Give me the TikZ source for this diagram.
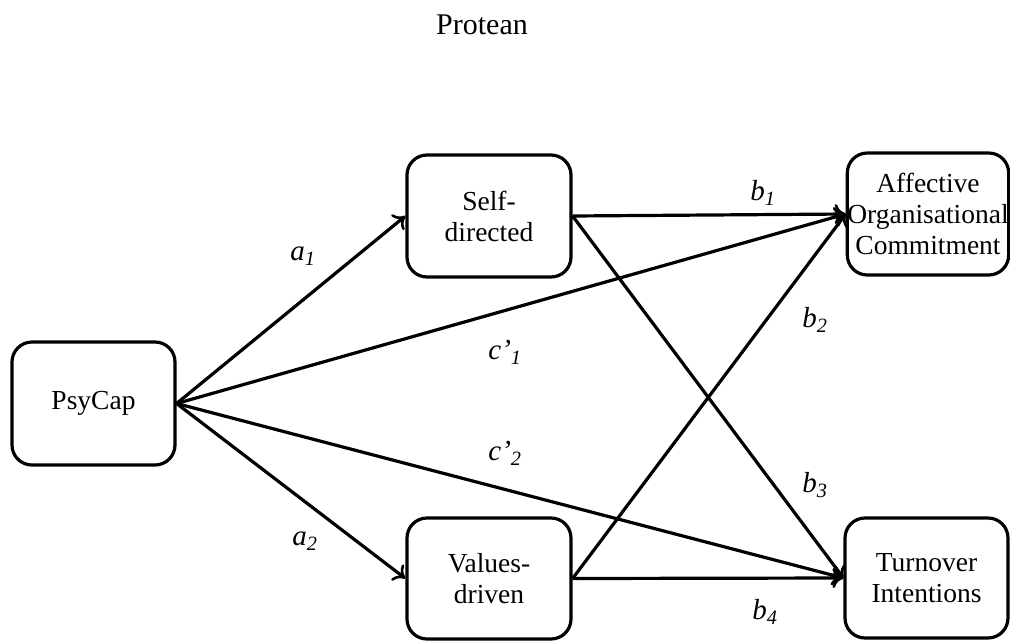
\documentclass[tikz,border=0pt]{standalone}
\usepackage{fontspec}
\setmainfont{Liberation Serif}
\usetikzlibrary{arrows.meta}
\begin{document}
\begin{tikzpicture}[x=1pt,y=-1pt,
  box/.style={draw,line width=3.2pt,rounded corners=20pt,align=center,
    font=\fontsize{27.5}{31}\selectfont,inner sep=0pt},
  conn/.style={line width=3.2pt,-{To[length=11pt,width=20pt,line width=2.6pt]}},
  lab/.style={font=\fontsize{29}{30}\selectfont\itshape,inner sep=0pt}]
\useasboundingbox (0,0) rectangle (1010,641);
\node (title) at (482,25) {\fontsize{30}{32}\selectfont Protean};
\node[box,minimum width=163pt,minimum height=123pt] (P) at (93.5,403.5) {PsyCap};
\node[box,minimum width=164pt,minimum height=122pt] (S) at (489,216) {Self-\\directed};
\node[box,minimum width=164pt,minimum height=121pt] (V) at (489,578.5) {Values-\\driven};
\node[box,minimum width=160pt,minimum height=122pt] (A) at (928,214) {Affective\\Organisational\\Commitment};
\node[box,minimum width=163pt,minimum height=120pt] (T) at (926.5,578) {Turnover\\Intentions};
\draw[conn] (P.east) -- (S.west);
\draw[conn] (P.east) -- (V.west);
\draw[conn] (P.east) -- (A.west);
\draw[conn] (P.east) -- (T.west);
\draw[conn] (S.east) -- (A.west);
\draw[conn] (S.east) -- (T.west);
\draw[conn] (V.east) -- (A.west);
\draw[conn] (V.east) -- (T.west);
\node[lab] (a1) at (303,256) {a\textsubscript{1}};
\node[lab] (a2) at (305,541) {a\textsubscript{2}};
\node[lab] (c1) at (505,352) {c’\textsubscript{1}};
\node[lab] (c2) at (505,453) {c’\textsubscript{2}};
\node[lab] (b1) at (763,193) {b\textsubscript{1}};
\node[lab] (b2) at (815,320) {b\textsubscript{2}};
\node[lab] (b3) at (815,485) {b\textsubscript{3}};
\node[lab] (b4) at (765,612) {b\textsubscript{4}};
\end{tikzpicture}
\end{document}
